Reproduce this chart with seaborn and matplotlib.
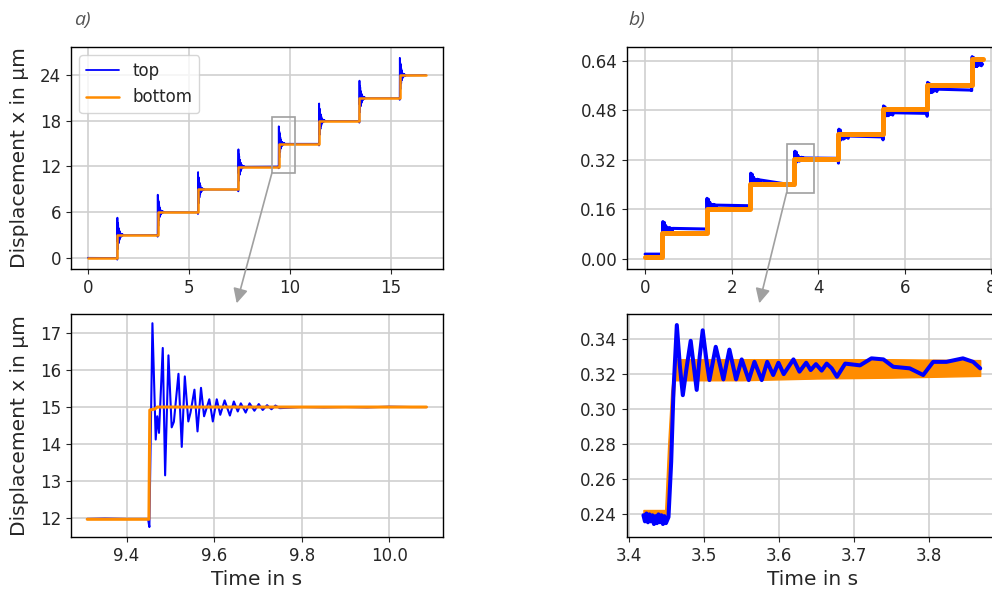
import numpy as np
import matplotlib
matplotlib.use("Agg")
import matplotlib.pyplot as plt
from matplotlib.patches import Rectangle
from matplotlib.ticker import FormatStrFormatter
import seaborn as sns

# ---------------------------
# DATA
# ---------------------------
# a) full staircase, 3 um steps
steps_a_t = [1.452, 3.452, 5.452, 7.452, 9.452, 11.452, 13.452, 15.452]
levels_a = [-0.03, 2.98, 6.0, 8.98, 11.97, 15.0, 18.0, 21.0, 24.0]
end_a = 16.75

# a) zoom on the 12 -> 15 um step, "top" sensor
zoom_a_t = [9.310, 9.350, 9.400, 9.449, 9.452, 9.459, 9.4665, 9.470, 9.474, 9.4826,
            9.488, 9.4956, 9.503, 9.508, 9.5185, 9.526, 9.533, 9.541, 9.546, 9.555,
            9.562, 9.570, 9.577, 9.589, 9.597, 9.606, 9.614, 9.624, 9.636, 9.645,
            9.654, 9.661, 9.672, 9.681, 9.692, 9.702, 9.711, 9.721, 9.731, 9.740,
            9.750, 9.800, 9.850, 9.900, 9.950, 10.000, 10.050, 10.085]
zoom_a_top = [11.97, 11.98, 11.97, 11.97, 11.75, 17.27, 14.12, 14.75, 14.30, 16.60,
              13.15, 16.40, 14.45, 14.60, 15.90, 13.92, 15.83, 14.61, 14.85, 15.47,
              14.34, 15.52, 14.75, 15.21, 14.61, 15.21, 14.79, 15.18, 14.77, 15.15,
              14.88, 15.10, 14.85, 15.10, 14.90, 15.08, 14.92, 15.05, 14.94, 15.04,
              14.97, 15.00, 14.99, 15.00, 14.99, 15.01, 15.00, 15.00]
# "bottom" sensor
zoom_a_bt = [9.310, 9.451, 9.453, 9.465, 9.470, 10.085]
zoom_a_bot = [11.96, 11.96, 14.92, 14.95, 15.00, 15.00]

# b) full staircase
steps_b_t = [0.40, 1.42, 2.43, 3.452, 4.47, 5.50, 6.52, 7.55]
levels_b_bot = [0.006, 0.085, 0.160, 0.241, 0.323, 0.403, 0.483, 0.561, 0.645]
levels_b_top = [0.016, 0.098, 0.173, 0.254, 0.325, 0.396, 0.471, 0.547, 0.630]
ends_b_top = [0.016, 0.097, 0.172, 0.238, 0.325, 0.394, 0.470, 0.545, 0.628]
end_b = 7.80

# b) zoom on the 0.24 -> 0.32 um step, "top" sensor
zoom_b_t = [3.419, 3.421, 3.423, 3.425, 3.427, 3.429, 3.431, 3.433, 3.435, 3.437,
            3.439, 3.441, 3.443, 3.445, 3.447, 3.449, 3.4524,
            3.456, 3.459, 3.4635, 3.4675, 3.4715, 3.477, 3.482, 3.486,
            3.490, 3.494, 3.498, 3.503, 3.507, 3.5154, 3.5256, 3.5336, 3.5425, 3.550,
            3.5594, 3.567, 3.5767, 3.584, 3.592, 3.599, 3.606, 3.619, 3.627, 3.636,
            3.642, 3.649, 3.6566, 3.6633, 3.670, 3.677, 3.688, 3.7077, 3.723, 3.739,
            3.752, 3.774, 3.792, 3.8053, 3.823, 3.845, 3.8586, 3.868]
zoom_b_top = [0.2395, 0.2360, 0.2405, 0.2355, 0.2400, 0.2360, 0.2395, 0.2345, 0.2390, 0.2350,
              0.2400, 0.2355, 0.2395, 0.2345, 0.2390, 0.2350, 0.2385,
              0.2700, 0.3100, 0.3480, 0.3250, 0.3080, 0.3250, 0.3390, 0.3250,
              0.3110, 0.3300, 0.3450, 0.3280, 0.3166, 0.3356, 0.3170, 0.3340, 0.3170, 0.3284,
              0.3166, 0.3270, 0.3166, 0.3270, 0.3195, 0.3265, 0.3200, 0.3284, 0.3214, 0.3265,
              0.3223, 0.3257, 0.3220, 0.3260, 0.3233, 0.3185, 0.3260, 0.3250, 0.3290, 0.3284,
              0.3242, 0.3233, 0.3195, 0.3270, 0.3270, 0.3290, 0.3270, 0.3233]
# "bottom" sensor: noisy band (lower / upper envelope)
band_b_t = [3.419, 3.448, 3.452, 3.456, 3.461, 3.55, 3.65, 3.75, 3.868]
band_b_lo = [0.2375, 0.2375, 0.252, 0.285, 0.3165, 0.3165, 0.3175, 0.3180, 0.3190]
band_b_hi = [0.2425, 0.2425, 0.280, 0.310, 0.3285, 0.3285, 0.3285, 0.3285, 0.3280]

BLUE = "#0000ff"
ORANGE = "#ff8c00"
GREY = "#a0a0a0"

# ---------------------------
# STYLE
# ---------------------------
sns.set_style("ticks", {"axes.grid": True, "grid.color": "#cfcfcf",
                        "axes.edgecolor": "black"})
plt.rcParams["grid.linewidth"] = 1.2
plt.rcParams["axes.linewidth"] = 1.0
plt.rcParams["font.size"] = 12

fig = plt.figure(figsize=(9.92, 5.92), dpi=100)
ax_a = fig.add_axes([0.0716, 0.5456, 0.375, 0.375])
ax_b = fig.add_axes([0.632, 0.5456, 0.375, 0.375])
ax_c = fig.add_axes([0.0716, 0.0929, 0.375, 0.3767])
ax_d = fig.add_axes([0.632, 0.0929, 0.375, 0.3767])

# ---------------------------
# a) staircase
# ---------------------------
za_t = np.array(zoom_a_t)
za_v = np.array(zoom_a_top)
ring_a = (za_t >= 9.449) & (za_t <= 9.75)
xs, ys = [0.0], [levels_a[0]]
for i, s in enumerate(steps_a_t):
    xs += list(s + za_t[ring_a] - 9.452)
    ys += list(levels_a[i + 1] + za_v[ring_a] - 15.0)
xs.append(end_a)
ys.append(levels_a[-1])
sns.lineplot(x=xs, y=ys, ax=ax_a, color=BLUE, lw=1.3, sort=False,
             estimator=None, label="top")
sns.lineplot(x=[0.0] + steps_a_t + [end_a], y=levels_a + [levels_a[-1]], ax=ax_a,
             color=ORANGE, lw=1.8, sort=False, estimator=None, drawstyle="steps-post",
             label="bottom")
ax_a.set_xlim(-0.84, 17.6)
ax_a.set_ylim(-1.5, 27.7)
ax_a.set_xticks([0, 5, 10, 15])
ax_a.set_yticks([0, 6, 12, 18, 24])
ax_a.set_ylabel("Displacement x in µm", fontsize=14.5, labelpad=8)
ax_a.legend(loc="upper left", fontsize=12)
ax_a.add_patch(Rectangle((9.12, 11.16), 1.15, 7.36, fill=False, ec=GREY, lw=1.2, zorder=5))
ax_a.annotate("", xy=(0.2386, 0.4877), xycoords="figure fraction",
              xytext=(9.12, 11.16), textcoords="data", annotation_clip=False,
              arrowprops=dict(arrowstyle="-|>", color=GREY, lw=1.2,
                              mutation_scale=22, shrinkA=0, shrinkB=0))

# ---------------------------
# b) staircase
# ---------------------------
zb_t = np.array(zoom_b_t)
zb_v = np.array(zoom_b_top)
ring_b = (zb_t >= 3.4524) & (zb_t <= 3.70)
xs, ys = [0.0], [levels_b_top[0]]
for i, s in enumerate(steps_b_t):
    xs.append(s - 0.005)
    ys.append(ends_b_top[i])
    xs += list(s + zb_t[ring_b] - 3.4524)
    ys += list(levels_b_top[i + 1] + zb_v[ring_b] - 0.325)
xs.append(end_b)
ys.append(ends_b_top[-1])
sns.lineplot(x=xs, y=ys, ax=ax_b, color=BLUE, lw=2.2, sort=False,
             estimator=None, legend=False)
sns.lineplot(x=[0.0] + steps_b_t + [end_b], y=levels_b_bot + [levels_b_bot[-1]], ax=ax_b,
             color=ORANGE, lw=3.6, sort=False, estimator=None, drawstyle="steps-post",
             legend=False)
ax_b.set_xlim(-0.42, 8.18)
ax_b.set_ylim(-0.032, 0.684)
ax_b.set_xticks([0, 2, 4, 6, 8])
ax_b.set_yticks([0.0, 0.16, 0.32, 0.48, 0.64])
ax_b.yaxis.set_major_formatter(FormatStrFormatter("%.2f"))
ax_b.add_patch(Rectangle((3.27, 0.214), 0.63, 0.157, fill=False, ec=GREY, lw=1.2, zorder=5))
ax_b.annotate("", xy=(0.7654, 0.4877), xycoords="figure fraction",
              xytext=(3.27, 0.214), textcoords="data", annotation_clip=False,
              arrowprops=dict(arrowstyle="-|>", color=GREY, lw=1.2,
                              mutation_scale=22, shrinkA=0, shrinkB=0))

# ---------------------------
# a) zoom
# ---------------------------
sns.lineplot(x=zoom_a_t, y=zoom_a_top, ax=ax_c, color=BLUE, lw=1.5, sort=False,
             estimator=None, legend=False)
sns.lineplot(x=zoom_a_bt, y=zoom_a_bot, ax=ax_c, color=ORANGE, lw=2.2, sort=False,
             estimator=None, legend=False)
ax_c.set_xlim(9.273, 10.123)
ax_c.set_ylim(11.48, 17.52)
ax_c.set_xticks([9.4, 9.6, 9.8, 10.0])
ax_c.set_yticks([12, 13, 14, 15, 16, 17])
ax_c.xaxis.set_major_formatter(FormatStrFormatter("%.1f"))
ax_c.set_ylabel("Displacement x in µm", fontsize=14.5, labelpad=8)
ax_c.set_xlabel("Time in s", fontsize=14.5)

# ---------------------------
# b) zoom
# ---------------------------
ax_d.fill_between(band_b_t, band_b_lo, band_b_hi, color=ORANGE, lw=1)
sns.lineplot(x=zoom_b_t, y=zoom_b_top, ax=ax_d, color=BLUE, lw=2.9, sort=False,
             estimator=None, legend=False)
ax_d.set_xlim(3.397, 3.893)
ax_d.set_ylim(0.2271, 0.3543)
ax_d.set_xticks([3.4, 3.5, 3.6, 3.7, 3.8])
ax_d.set_yticks([0.24, 0.26, 0.28, 0.30, 0.32, 0.34])
ax_d.xaxis.set_major_formatter(FormatStrFormatter("%.1f"))
ax_d.yaxis.set_major_formatter(FormatStrFormatter("%.2f"))
ax_d.set_xlabel("Time in s", fontsize=14.5)

for ax in (ax_a, ax_b, ax_c, ax_d):
    ax.tick_params(labelsize=12)
    ax.set_axisbelow(True)

# panel tags
fig.text(0.075, 0.966, "a)", fontsize=14, fontstyle="italic", color="#555555",
         va="center", family=["Open Sans", "DejaVu Sans"])
fig.text(0.634, 0.966, "b)", fontsize=14, fontstyle="italic", color="#555555",
         va="center", family=["Open Sans", "DejaVu Sans"])

fig.savefig("out.png", dpi=100)
